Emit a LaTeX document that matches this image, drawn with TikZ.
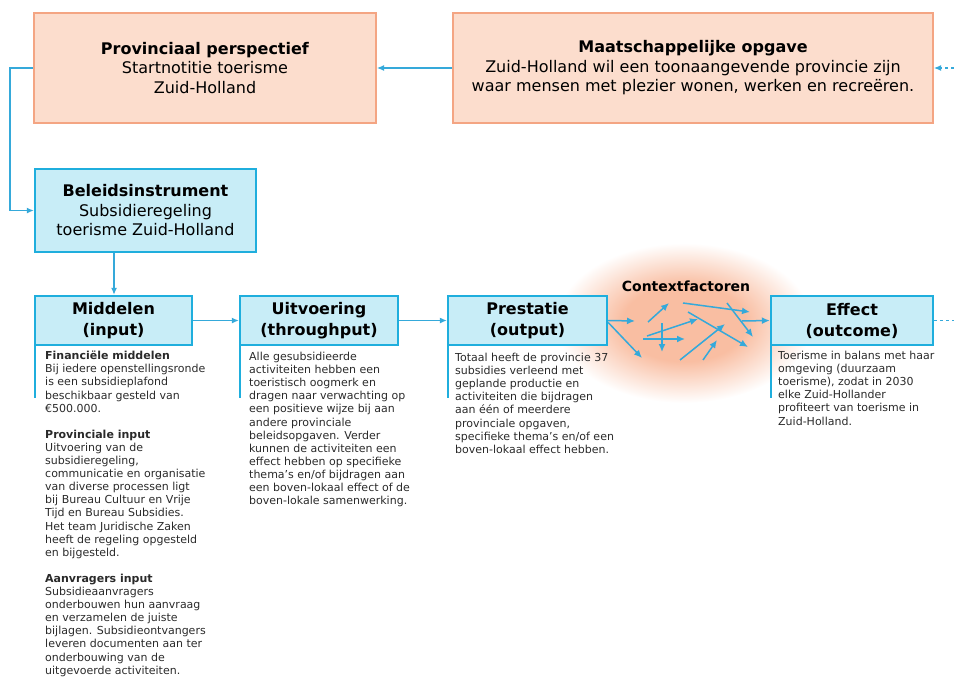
\documentclass[tikz,border=0pt]{standalone}
\usepackage{fontspec}
\setmainfont{DejaVu Sans}
\usepackage{tikz}
\usetikzlibrary{arrows,arrows.meta}
\definecolor{peachfill}{HTML}{FCDDCD}
\definecolor{peachline}{HTML}{F4A583}
\definecolor{iceblue}{HTML}{C8EDF7}
\definecolor{lineblue}{HTML}{1FAEDD}
\definecolor{arrowblue}{HTML}{35A9DA}
\definecolor{glowpeach}{HTML}{F9BEA2}
\definecolor{bodygray}{HTML}{2A2A2A}
\pgfdeclareradialshading{contextglow}{\pgfpoint{0bp}{0bp}}{color(0bp)=(glowpeach); color(12bp)=(glowpeach); color(25bp)=(white); color(50bp)=(white)}
\tikzset{goal/.style={rectangle, draw=peachline, fill=peachfill, line width=2pt, align=center,
		font=\fontsize{16}{19.5}\selectfont},
	chain/.style={rectangle, draw=lineblue, fill=iceblue, line width=2.4pt, align=center,
		font=\fontsize{16}{21}\selectfont\bfseries, minimum height=49pt},
	note/.style={anchor=north west, inner sep=0pt, align=left, text=bodygray,
		font=\fontsize{11}{13.1}\selectfont},
	link/.style={draw=arrowblue, line width=1.2pt, -{Latex[length=7pt,width=6pt]}},
	ctx/.style={draw=arrowblue, line width=1.5pt, -{Latex[length=8pt,width=7pt]}},
	accent/.style={draw=lineblue, line width=1.6pt}
}

\begin{document}
\begin{tikzpicture}[x=1pt,y=-1pt]
	\useasboundingbox (0,0) rectangle (954,677);
	% context glow
	\shade[shading=contextglow] (684,323) ellipse (128 and 80);
	% top row
	\node[goal, minimum width=342pt, minimum height=110pt] (prov) at (205,68)
		{\textbf{Provinciaal perspectief}\\Startnotitie toerisme\\Zuid-Holland};
	\node[goal, minimum width=480pt, minimum height=110pt] (maats) at (693,68)
		{\textbf{Maatschappelijke opgave}\\Zuid-Holland wil een toonaangevende provincie zijn\\waar mensen met plezier wonen, werken en recreëren.};
	\node[chain, font=\fontsize{16}{19.5}\selectfont, minimum width=221pt, minimum height=83pt] (beleid) at (145.5,210.5)
		{\textbf{Beleidsinstrument}\\Subsidieregeling\\toerisme Zuid-Holland};
	% middle row
	\node[chain, minimum width=157pt] (input) at (113.5,320.5) {Middelen\\(input)};
	\node[chain, minimum width=158pt] (through) at (319,320.5) {Uitvoering\\(throughput)};
	\node[chain, minimum width=159pt] (output) at (527.5,320.5) {Prestatie\\(output)};
	\node[chain, minimum width=162pt] (outcome) at (852,320.5) {Effect\\(outcome)};
	\node[font=\fontsize{14}{16}\selectfont\bfseries] (ctxlabel) at (686,286) {Contextfactoren};
	\coordinate (rimtop) at (954,68);
	\coordinate (rimmid) at (954,320.5);
	% connectors
	\draw[link] (maats.west) -- (prov.east);
	\draw[link] (prov.west) -- (10,68) |- (beleid.west);
	\draw[link] (beleid.south -| 114,0) -- (input.north -| 114,0);
	\draw[link] (input.east) -- (through.west);
	\draw[link] (through.east) -- (output.west);
	\draw[link, dashed] (rimtop) -- (maats.east);
	\draw[draw=arrowblue, line width=1.2pt, dashed] (outcome.east) -- (rimmid);
	% context arrows
	\draw[ctx] (output.east) -- (635,321);
	\draw[ctx] ([yshift=-2pt]output.east) -- (642,358);
	\draw[ctx] (648,322) -- (669,303);
	\draw[ctx] (647,336) -- (698,319);
	\draw[ctx] (643,339) -- (685,339);
	\draw[ctx] (662,323) -- (662,352);
	\draw[ctx] (683,303) -- (750,312);
	\draw[ctx] (688,312) -- (748,347);
	\draw[ctx] (727,303) -- (753,337);
	\draw[ctx] (680,360) -- (725,324);
	\draw[ctx] (703,360) -- (717,340);
	\draw[ctx] (742,321) -- (outcome.west);
	% accent lines under the boxes
	\draw[accent] ([xshift=1pt]input.south west) -- ++(0,52);
	\draw[accent] ([xshift=1pt]through.south west) -- ++(0,52);
	\draw[accent] ([xshift=1pt]output.south west) -- ++(0,52);
	\draw[accent] ([xshift=1pt]outcome.south west) -- ++(0,52);
	% notes
	\node[note] (inputnote) at (45,351) {\textbf{Financiële middelen}\\Bij iedere openstellingsronde\\is een subsidieplafond\\beschikbaar gesteld van\\€500.000.\\[13.1pt]
		\textbf{Provinciale input}\\Uitvoering van de\\subsidieregeling,\\communicatie en organisatie\\van diverse processen ligt\\bij Bureau Cultuur en Vrije\\Tijd en Bureau Subsidies.\\Het team Juridische Zaken\\heeft de regeling opgesteld\\en bijgesteld.\\[13.1pt]
		\textbf{Aanvragers input}\\Subsidieaanvragers\\onderbouwen hun aanvraag\\en verzamelen de juiste\\bijlagen. Subsidieontvangers\\leveren documenten aan ter\\onderbouwing van de\\uitgevoerde activiteiten.};
	\node[note] (throughnote) at (249,352) {Alle gesubsidieerde\\activiteiten hebben een\\toeristisch oogmerk en\\dragen naar verwachting op\\een positieve wijze bij aan\\andere provinciale\\beleidsopgaven. Verder\\kunnen de activiteiten een\\effect hebben op specifieke\\thema’s en/of bijdragen aan\\een boven-lokaal effect of de\\boven-lokale samenwerking.};
	\node[note] (outputnote) at (455,353) {Totaal heeft de provincie 37\\subsidies verleend met\\geplande productie en\\activiteiten die bijdragen\\aan één of meerdere\\provinciale opgaven,\\specifieke thema’s en/of een\\boven-lokaal effect hebben.};
	\node[note] (outcomenote) at (778,351) {Toerisme in balans met haar\\omgeving (duurzaam\\toerisme), zodat in 2030\\elke Zuid-Hollander\\profiteert van toerisme in\\Zuid-Holland.};
\end{tikzpicture}
\end{document}
